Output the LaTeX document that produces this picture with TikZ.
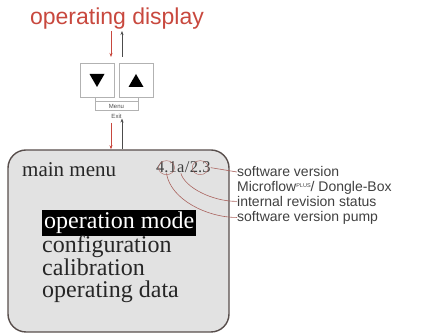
\documentclass[tikz,border=0pt]{standalone}
\usepackage{fontspec}
\setmainfont{Liberation Serif}
\setsansfont{Liberation Sans}
\usepackage{tikz}
\usetikzlibrary{
	arrows.meta,
	positioning,
	calc
}
\definecolor{dispred}{RGB}{200,72,62}
\definecolor{screengray}{RGB}{226,226,226}
\definecolor{framegray}{RGB}{88,78,76}
\definecolor{leadred}{RGB}{170,100,95}
\newcommand{\plussup}{\raisebox{4.5pt}{\fontsize{5.5}{5.5}\selectfont PLUS}}

\begin{document}
\begin{tikzpicture}[
				x=1pt, y=-1pt,
				keybox/.style={
					rectangle, draw=gray!60, line width=0.6pt,
					minimum width=34pt, minimum height=34pt, inner sep=0pt
				},
				tinylabel/.style={
					font=\sffamily\fontsize{6}{6}\selectfont, text=black!70, inner sep=0pt
				},
				menuitem/.style={
					font=\fontsize{24}{24}\selectfont, text=black!85,
					inner sep=0pt, anchor=base west
				},
				infotext/.style={
					font=\sffamily\fontsize{14}{14}\selectfont, text=black!75,
					inner sep=0pt, anchor=base west
				},
				vertext/.style={
					font=\fontsize{16.5}{16.5}\selectfont, text=black!75,
					inner sep=0pt, anchor=base west
				},
				lead/.style={draw=leadred, line width=0.6pt},
				arrowdown/.style={-{Stealth[length=4pt,width=3pt]}, dispred, line width=0.6pt},
				arrowup/.style={-{Stealth[length=4pt,width=3pt]}, black!70, line width=0.6pt}
				]
				\useasboundingbox (0,0) rectangle (421,336);
				
				% title
				\node[font=\sffamily\fontsize{23}{23}\selectfont, text=dispred, inner sep=0pt, anchor=base] (title) at (117,25) {operating display};
				
				% keys
				\node[keybox] (keydown) at (97,80) {};
				\node[keybox] (keyup) at (136,80) {};
				\fill ($(keydown.center)+(-7.5,-6)$) -- ++(15,0) -- ++(-7.5,13) -- cycle;
				\fill ($(keyup.center)+(-7.5,7)$) -- ++(15,0) -- ++(-7.5,-13) -- cycle;
				
				% menu / exit
				\node[tinylabel, draw=gray!60, line width=0.5pt, minimum width=43pt, minimum height=9pt] (menu) at (116.5,106) {Menu};
				\node[tinylabel, below=3pt of menu] (exit) {Exit};
				\draw[gray!60, line width=0.5pt] (menu.north west) -- (menu.north west |- keydown.south);
				\draw[gray!60, line width=0.5pt] (menu.north east) -- (menu.north east |- keyup.south);
				
				% main screen
				\node[draw=framegray, fill=screengray, line width=1.4pt, rounded corners=18pt,
					minimum width=221pt, minimum height=182pt] (screen) at (118.5,241) {};
				
				% main menu
				\node[menuitem, font=\fontsize{21}{21}\selectfont] (mainmenu) at (22,177) {main menu};
				
				% version 4.1a/2.3
				\node[vertext] (v41) at (156,173) {4.1};
				\node[vertext, right=0pt of v41.base east, anchor=base west] (vrev) {a};
				\node[vertext, right=0pt of vrev.base east, anchor=base west] (vslash) {/};
				\node[vertext, right=0pt of vslash.base east, anchor=base west] (v23) {2.3};
				\draw[lead, line width=0.4pt] (v41.center) ellipse (8pt and 7pt);
				\draw[lead, line width=0.4pt] (v23.center) ellipse (8pt and 7pt);
				
				% menu entries
				\node[menuitem, fill=black, text=white, inner sep=2pt] (opmode) at (42,229) {operation mode};
				\node[menuitem, below=24pt of opmode.base west, anchor=base west] (config) {configuration};
				\node[menuitem, below=22.5pt of config.base west, anchor=base west] (calib) {calibration};
				\node[menuitem, below=22.5pt of calib.base west, anchor=base west] (opdata) {operating data};
				
				% info labels
				\node[infotext] (swver) at (237,177) {software version};
				\node[infotext, below=14.7pt of swver.base west, anchor=base west] (micro) {Microflow\plussup/ Dongle-Box};
				\node[infotext, below=14.7pt of micro.base west, anchor=base west] (intrev) {internal revision status};
				\node[infotext, below=14.7pt of intrev.base west, anchor=base west] (swpump) {software version pump};
				
				% leads
				\draw[lead] (v23.east) -- (swver.west);
				\draw[lead] (vrev.south) .. controls +(4,14) and +(-25,0) .. (intrev.west);
				\draw[lead] (v41.south) .. controls +(4,26) and +(-30,0) .. (swpump.west);
				
				% arrows
				\coordinate (topin) at (111,31);
				\coordinate (topout) at (122,57);
				\coordinate (botin) at (111,123);
				\coordinate (botout) at (122,149);
				\draw[arrowdown] (topin) -- (topin |- topout);
				\draw[arrowup] (topout) -- (topout |- topin);
				\draw[arrowdown] (botin) -- (botin |- screen.north);
				\draw[arrowup] (botout) -- (botout |- exit.south);
			\end{tikzpicture}
\end{document}
